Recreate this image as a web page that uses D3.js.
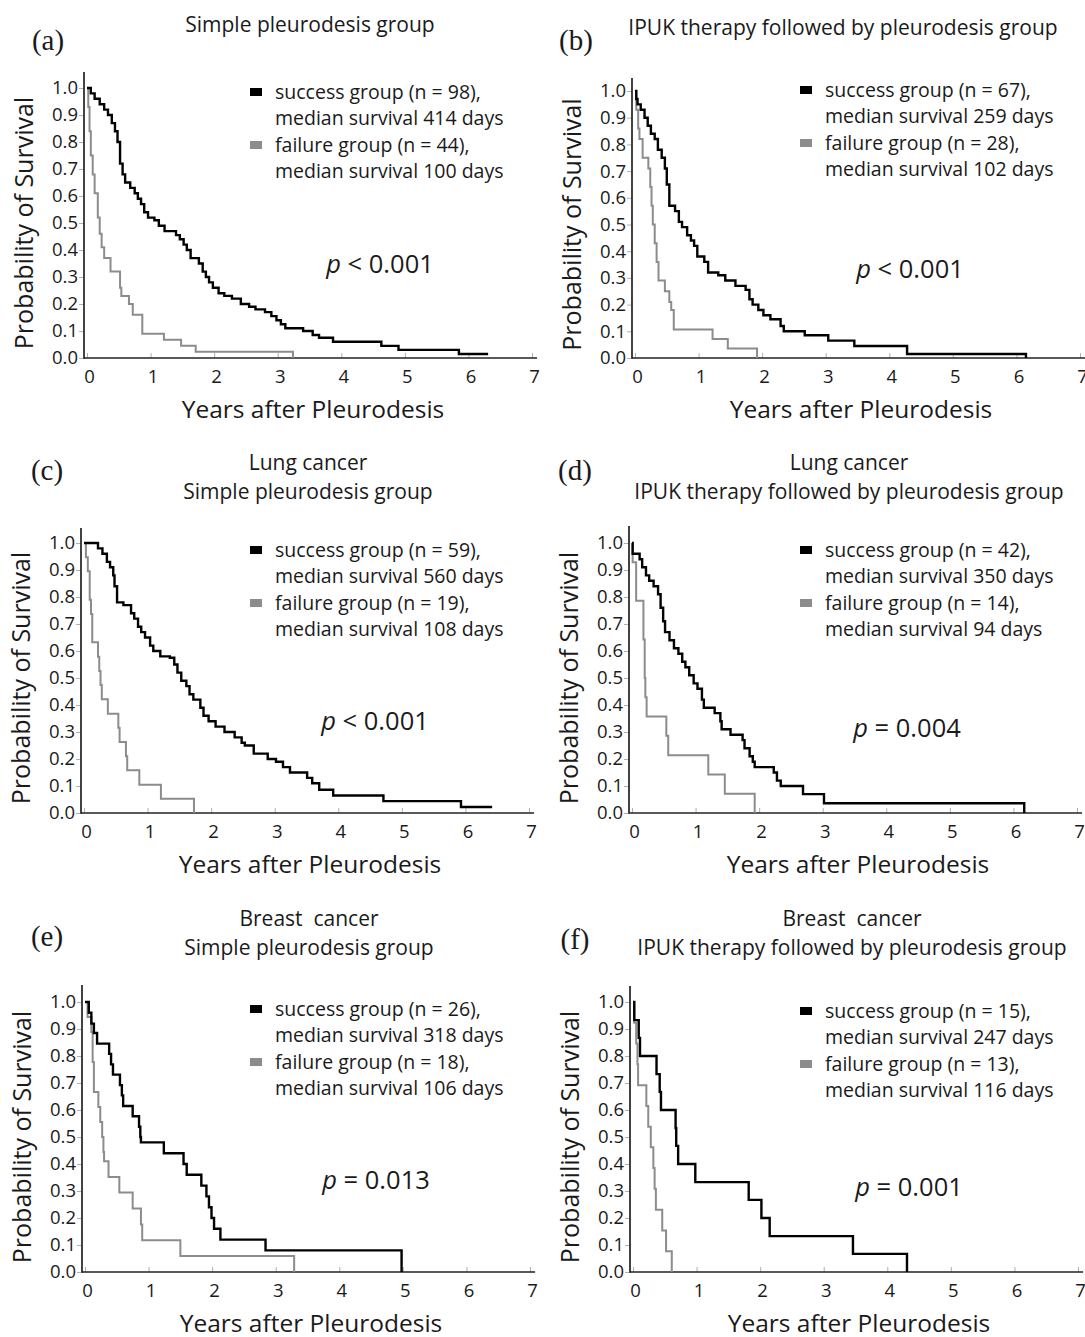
<!DOCTYPE html>
<html>
<head>
<meta charset="utf-8">
<script src="https://cdn.jsdelivr.net/npm/d3@7"></script>
<style>
body { margin: 0; background: #fff; }
text { font-family: "Open Sans", sans-serif; fill: #1a1a1a; }
.plabel { font-family: "Liberation Serif", "DejaVu Serif", serif; }
</style>
</head>
<body>
<svg id="chart" width="1085" height="1337"></svg>
<script>
// Kaplan-Meier steps: [years, survival from that time on]
var aSuccess = [[0,1],[0.06,0.98],[0.12,0.96],[0.2,0.94],[0.27,0.92],[0.33,0.9],[0.39,0.87],[0.44,0.84],[0.48,0.8],[0.52,0.72],[0.56,0.68],[0.6,0.65],[0.68,0.63],[0.75,0.61],[0.8,0.59],[0.85,0.57],[0.9,0.54],[0.96,0.52],[1.06,0.51],[1.13,0.49],[1.22,0.47],[1.4,0.455],[1.46,0.44],[1.52,0.42],[1.57,0.4],[1.63,0.37],[1.76,0.35],[1.82,0.32],[1.87,0.3],[1.92,0.28],[1.98,0.26],[2.07,0.24],[2.16,0.23],[2.28,0.22],[2.42,0.2],[2.55,0.19],[2.65,0.18],[2.8,0.17],[2.9,0.155],[2.98,0.14],[3.05,0.125],[3.12,0.11],[3.4,0.1],[3.55,0.085],[3.65,0.075],[3.87,0.06],[4.63,0.045],[4.9,0.03],[5.85,0.015],[6.31,0.015]];
var aFailure = [[0,1],[0.02,0.93],[0.04,0.84],[0.06,0.75],[0.09,0.68],[0.12,0.61],[0.17,0.52],[0.2,0.46],[0.23,0.41],[0.27,0.37],[0.37,0.32],[0.52,0.26],[0.54,0.23],[0.66,0.2],[0.72,0.16],[0.87,0.09],[1.21,0.068],[1.48,0.045],[1.71,0.023],[3.24,0]];

var bSuccess = [[0,1],[0.02,0.97],[0.04,0.95],[0.09,0.93],[0.15,0.9],[0.2,0.87],[0.25,0.84],[0.31,0.82],[0.36,0.78],[0.42,0.75],[0.47,0.71],[0.5,0.65],[0.54,0.57],[0.63,0.55],[0.69,0.51],[0.74,0.49],[0.82,0.46],[0.88,0.44],[0.93,0.42],[0.98,0.38],[1.09,0.36],[1.15,0.32],[1.31,0.31],[1.42,0.29],[1.58,0.27],[1.74,0.255],[1.8,0.22],[1.85,0.2],[1.94,0.18],[2.02,0.16],[2.13,0.145],[2.29,0.12],[2.34,0.1],[2.67,0.085],[3.04,0.065],[3.45,0.045],[4.28,0.015],[6.15,0]];
var bFailure = [[0,1],[0.02,0.93],[0.05,0.86],[0.07,0.82],[0.12,0.75],[0.21,0.71],[0.24,0.64],[0.26,0.57],[0.28,0.5],[0.31,0.43],[0.34,0.36],[0.37,0.29],[0.47,0.25],[0.54,0.21],[0.57,0.18],[0.61,0.107],[1.22,0.071],[1.46,0.036],[1.92,0]];

var cSuccess = [[0,1],[0.22,0.98],[0.29,0.96],[0.36,0.93],[0.41,0.91],[0.46,0.88],[0.48,0.84],[0.52,0.78],[0.62,0.77],[0.74,0.74],[0.79,0.72],[0.85,0.69],[0.9,0.67],[0.96,0.65],[1.04,0.62],[1.09,0.6],[1.2,0.58],[1.35,0.575],[1.42,0.55],[1.47,0.52],[1.53,0.49],[1.61,0.47],[1.66,0.44],[1.72,0.42],[1.83,0.39],[1.88,0.36],[1.96,0.34],[2.07,0.32],[2.21,0.3],[2.37,0.28],[2.48,0.26],[2.53,0.25],[2.67,0.22],[2.89,0.2],[3.02,0.19],[3.13,0.17],[3.24,0.15],[3.51,0.13],[3.59,0.11],[3.7,0.086],[3.92,0.065],[4.71,0.044],[5.93,0.022],[6.42,0.022]];
var cFailure = [[0,1],[0.03,0.947],[0.06,0.895],[0.09,0.79],[0.11,0.737],[0.13,0.632],[0.22,0.579],[0.24,0.526],[0.26,0.474],[0.28,0.421],[0.375,0.368],[0.54,0.316],[0.56,0.263],[0.66,0.21],[0.68,0.158],[0.87,0.105],[1.21,0.053],[1.73,0]];

var dSuccess = [[0,1],[0.01,0.96],[0.12,0.94],[0.16,0.91],[0.22,0.88],[0.27,0.86],[0.34,0.84],[0.41,0.81],[0.45,0.76],[0.49,0.71],[0.52,0.67],[0.59,0.64],[0.66,0.61],[0.73,0.59],[0.79,0.56],[0.84,0.54],[0.9,0.51],[0.97,0.48],[1.03,0.46],[1.1,0.42],[1.13,0.39],[1.3,0.37],[1.39,0.34],[1.41,0.31],[1.55,0.29],[1.74,0.27],[1.77,0.24],[1.85,0.21],[1.9,0.19],[1.93,0.17],[2.23,0.15],[2.28,0.12],[2.34,0.1],[2.69,0.07],[3.02,0.036],[6.17,0]];
var dFailure = [[0,1],[0.01,0.929],[0.065,0.786],[0.18,0.643],[0.2,0.5],[0.21,0.429],[0.23,0.357],[0.54,0.286],[0.57,0.214],[1.2,0.143],[1.46,0.071],[1.93,0]];

var eSuccess = [[0,1],[0.06,0.96],[0.1,0.92],[0.14,0.885],[0.19,0.846],[0.38,0.808],[0.41,0.769],[0.44,0.731],[0.55,0.692],[0.58,0.654],[0.6,0.615],[0.75,0.577],[0.85,0.538],[0.87,0.5],[0.88,0.48],[1.24,0.44],[1.55,0.4],[1.6,0.36],[1.83,0.32],[1.91,0.28],[1.95,0.24],[1.99,0.2],[2.03,0.16],[2.13,0.12],[2.84,0.08],[4.98,0]];
var eFailure = [[0,1],[0.04,0.944],[0.1,0.889],[0.12,0.778],[0.14,0.667],[0.21,0.611],[0.24,0.556],[0.27,0.5],[0.29,0.444],[0.3,0.41],[0.37,0.352],[0.54,0.294],[0.75,0.235],[0.88,0.176],[0.9,0.118],[1.5,0.059],[3.29,0]];

var fSuccess = [[0,1],[0.02,0.933],[0.09,0.867],[0.11,0.8],[0.37,0.733],[0.42,0.667],[0.44,0.6],[0.67,0.533],[0.68,0.467],[0.71,0.4],[0.98,0.333],[1.82,0.267],[2.02,0.2],[2.15,0.133],[3.46,0.067],[4.31,0]];
var fFailure = [[0,1],[0.02,0.923],[0.05,0.846],[0.07,0.769],[0.08,0.692],[0.21,0.615],[0.24,0.538],[0.28,0.462],[0.32,0.385],[0.34,0.308],[0.36,0.231],[0.46,0.154],[0.52,0.077],[0.61,0]];

var panelIds = ["a", "b", "c", "d", "e", "f"];
var titleLines = [
    ["Simple pleurodesis group"],
    ["IPUK therapy followed by pleurodesis group"],
    ["Lung cancer", "Simple pleurodesis group"],
    ["Lung cancer", "IPUK therapy followed by pleurodesis group"],
    ["Breast  cancer", "Simple pleurodesis group"],
    ["Breast  cancer", "IPUK therapy followed by pleurodesis group"]
];
var successCurves = [aSuccess, bSuccess, cSuccess, dSuccess, eSuccess, fSuccess];
var failureCurves = [aFailure, bFailure, cFailure, dFailure, eFailure, fFailure];
var successN = [98, 67, 59, 42, 26, 15];
var successMedian = [414, 259, 560, 350, 318, 247];
var failureN = [44, 28, 19, 14, 18, 13];
var failureMedian = [100, 102, 108, 94, 106, 116];
var pValues = ["< 0.001", "< 0.001", "< 0.001", "= 0.004", "= 0.013", "= 0.001"];
var yTicks = [0, 0.1, 0.2, 0.3, 0.4, 0.5, 0.6, 0.7, 0.8, 0.9, 1.0];
var xTicks = [0, 1, 2, 3, 4, 5, 6, 7];

// where each panel sits on the page
var layout = [
    {x0: 87,  y0: 358,  y1: 88,   yTop: 72,  lab: [48, 40],   titleX: 310, titleY: [24],       legX: 250, legY: 91,   pX: 380, pY: 263},
    {x0: 635, y0: 358,  y1: 91,   yTop: 78,  lab: [576, 40],  titleX: 843, titleY: [27],       legX: 800, legY: 89,   pX: 910, pY: 268},
    {x0: 84,  y0: 813,  y1: 543,  yTop: 528, lab: [47, 470],  titleX: 308, titleY: [462, 491], legX: 250, legY: 549,  pX: 375, pY: 720},
    {x0: 632, y0: 813,  y1: 543,  yTop: 526, lab: [575, 470], titleX: 849, titleY: [462, 491], legX: 800, legY: 549,  pX: 907, pY: 727},
    {x0: 85,  y0: 1272, y1: 1002, yTop: 985, lab: [47, 936],  titleX: 309, titleY: [918, 947], legX: 250, legY: 1008, pX: 376, pY: 1179},
    {x0: 633, y0: 1272, y1: 1002, yTop: 986, lab: [575, 939], titleX: 852, titleY: [918, 947], legX: 800, legY: 1010, pX: 909, pY: 1186}
];

var svg = d3.select("#chart");
var successColor = "#000";
var failureColor = "#8c8c8c";

panelIds.forEach(function(id, i) {
    drawPanel(svg.append("g").attr("class", "panel-" + id), i);
});

function drawPanel(g, i) {
    var L = layout[i];
    var x = d3.scaleLinear().domain([0, 7]).range([L.x0, L.x0 + 445]);
    var y = d3.scaleLinear().domain([0, 1]).range([L.y0, L.y1]);
    var axisX = L.x0 - 3;

    // panel letter
    g.append("text")
        .attr("class", "plabel")
        .attr("x", L.lab[0])
        .attr("y", L.lab[1])
        .attr("text-anchor", "middle")
        .attr("dominant-baseline", "central")
        .style("font-size", "29px")
        .text("(" + panelIds[i] + ")");

    // title lines
    titleLines[i].forEach(function(t, k) {
        g.append("text")
            .attr("x", L.titleX)
            .attr("y", L.titleY[k])
            .attr("text-anchor", "middle")
            .attr("dominant-baseline", "central")
            .style("font-size", "21px")
            .style("white-space", "pre")
            .text(t);
    });

    // y axis ticks and labels
    var gY = g.append("g")
        .attr("transform", "translate(" + axisX + ",0)")
        .call(d3.axisLeft(y).tickValues(yTicks).tickFormat(d3.format(".1f")).tickSize(5).tickSizeOuter(0).tickPadding(1));
    gY.select(".domain").remove();
    gY.selectAll("line").attr("stroke", "#b0b0b0");
    gY.selectAll("text").style("font-size", "18.5px").attr("fill", "#1a1a1a");

    // x axis ticks and labels
    var gX = g.append("g")
        .attr("transform", "translate(0," + L.y0 + ")")
        .call(d3.axisBottom(x).tickValues(xTicks).tickFormat(d3.format("d")).tickSize(-5).tickSizeOuter(0));
    gX.select(".domain").remove();
    gX.selectAll("line").attr("stroke", "#b0b0b0");
    gX.selectAll("text")
        .attr("y", 19)
        .attr("dx", 2)
        .attr("dy", "0.35em")
        .style("font-size", "18.5px")
        .attr("fill", "#1a1a1a");

    // axis lines
    g.append("line")
        .attr("x1", axisX).attr("x2", axisX)
        .attr("y1", L.yTop).attr("y2", L.y0 + 0.8)
        .attr("stroke", "#222").attr("stroke-width", 1.7);
    g.append("line")
        .attr("x1", axisX).attr("x2", x(7.08))
        .attr("y1", L.y0).attr("y2", L.y0)
        .attr("stroke", "#222").attr("stroke-width", 1.7);

    // axis titles
    g.append("text")
        .attr("transform", "translate(" + (L.x0 - 64) + "," + ((L.y0 + L.y1) / 2) + ") rotate(-90)")
        .attr("text-anchor", "middle")
        .attr("dominant-baseline", "central")
        .style("font-size", "25px")
        .text("Probability of Survival");
    g.append("text")
        .attr("x", L.x0 + 226)
        .attr("y", L.y0 + 50)
        .attr("text-anchor", "middle")
        .attr("dominant-baseline", "central")
        .style("font-size", "24.5px")
        .text("Years after Pleurodesis");

    // survival curves
    var line = d3.line()
        .x(function(d) { return x(d[0]); })
        .y(function(d) { return y(d[1]); })
        .curve(d3.curveStepAfter);
    g.append("path")
        .datum(failureCurves[i])
        .attr("d", line)
        .attr("fill", "none")
        .attr("stroke", failureColor)
        .attr("stroke-width", 2);
    g.append("path")
        .datum(successCurves[i])
        .attr("d", line)
        .attr("fill", "none")
        .attr("stroke", successColor)
        .attr("stroke-width", 2.4);

    // legend
    var legendRows = [
        {color: successColor, lines: ["success group (n = " + successN[i] + "),", "median survival " + successMedian[i] + " days"]},
        {color: failureColor, lines: ["failure group (n = " + failureN[i] + "),", "median survival " + failureMedian[i] + " days"]}
    ];
    legendRows.forEach(function(row, r) {
        var cy = L.legY + r * 53;
        g.append("rect")
            .attr("x", L.legX)
            .attr("y", cy - 3)
            .attr("width", 12)
            .attr("height", 8)
            .attr("fill", row.color);
        row.lines.forEach(function(t, k) {
            g.append("text")
                .attr("x", L.legX + 25)
                .attr("y", cy + k * 26.5)
                .attr("dominant-baseline", "central")
                .style("font-size", "19.5px")
                .text(t);
        });
    });

    // p value
    var p = g.append("text")
        .attr("x", L.pX)
        .attr("y", L.pY)
        .attr("text-anchor", "middle")
        .attr("dominant-baseline", "central")
        .style("font-size", "25.5px");
    p.append("tspan").style("font-style", "italic").text("p");
    p.append("tspan").text(" " + pValues[i]);
}
</script>
</body>
</html>
